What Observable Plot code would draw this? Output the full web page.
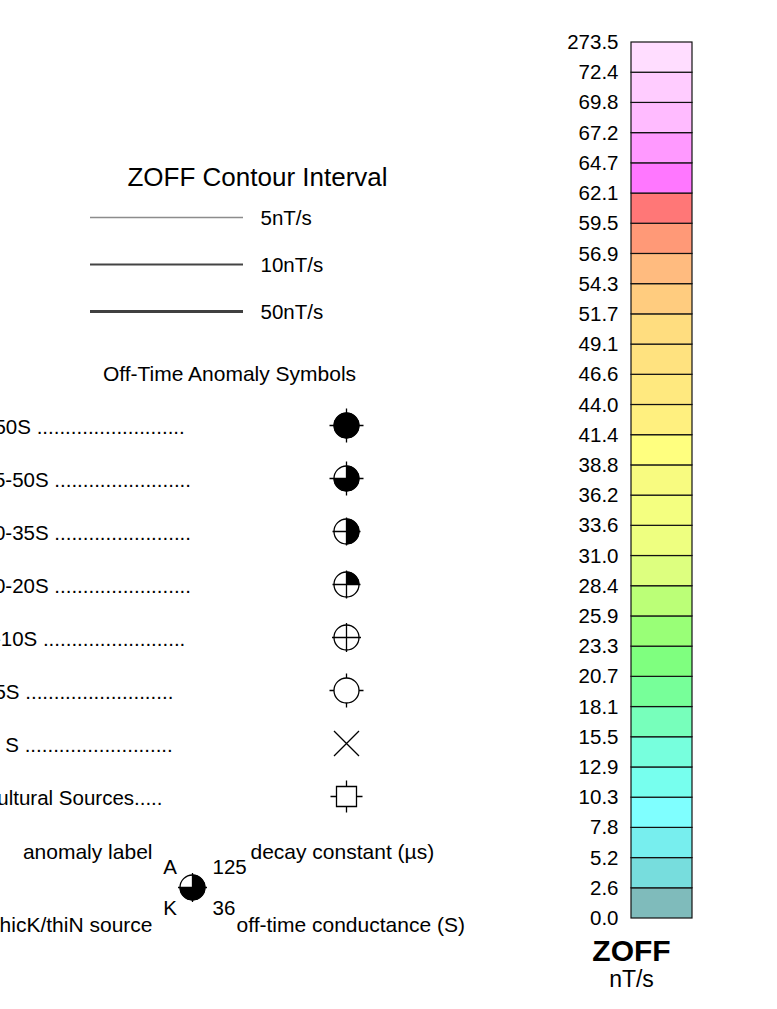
<!DOCTYPE html>
<html>
<head>
<meta charset="utf-8">
<script src="https://cdn.jsdelivr.net/npm/d3@7"></script>
<script src="https://cdn.jsdelivr.net/npm/@observablehq/plot@0.6"></script>
<style>
html, body { margin: 0; padding: 0; background: #fff; }
#chart { position: relative; width: 777px; height: 1009px; overflow: hidden; }
#chart svg { position: absolute; }
</style>
</head>
<body>
<div id="chart"></div>
<script>
// ---------------- DATA ----------------
// colour-bar class boundaries, bottom to top
const boundaryLabels = ["0.0","2.6","5.2","7.8","10.3","12.9","15.5","18.1","20.7","23.3","25.9","28.4","31.0","33.6","36.2","38.8","41.4","44.0","46.6","49.1","51.7","54.3","56.9","59.5","62.1","64.7","67.2","69.8","72.4","273.5"];
// class colours, bottom to top
const binColors = ["#7fbbbb","#77dddd","#77eeee","#7fffff","#77ffee","#77ffdd","#77ffbb","#77ff99","#7fff7f","#99ff77","#bbff77","#ddff7f","#eeff80","#f4ff80","#f8fb80","#ffff7f","#fff07f","#ffe97f","#ffe27f","#ffdd7f","#ffcc7f","#ffbb7f","#ff9977","#ff7777","#ff77ff","#ff99ff","#ffbbff","#ffccff","#ffddff"];
const colorbarTitle = "ZOFF";
const colorbarUnit = "nT/s";

const contourTitle = "ZOFF Contour Interval";
const contourLabels = ["5nT/s", "10nT/s", "50nT/s"];

const anomalyTitle = "Off-Time Anomaly Symbols";
const anomalyLabels = [
  ">50S " + ".".repeat(26),
  "35-50S " + ".".repeat(24),
  "20-35S " + ".".repeat(24),
  "10-20S " + ".".repeat(24),
  "5-10S " + ".".repeat(25),
  "<5S " + ".".repeat(26),
  "1  S " + ".".repeat(26),
  "Cultural Sources....."
];
const anomalySymbols = ["full", "threeQuarter", "half", "quarter", "empty", "ticks", "cross", "square"];

const exampleSymbol = "threeQuarter";
const exampleLetters = ["A", "K"];
const exampleNumbers = ["125", "36"];
const exampleCaptions = ["anomaly label", "decay constant (µs)", "thicK/thiN source", "off-time conductance (S)"];

// ---------------- SYMBOLS ----------------
const PI = Math.PI;
const rOf = size => Math.sqrt(size / PI);
const sector = (a0, a1) => ({
  draw(ctx, size) {
    const r = rOf(size);
    if (a1 - a0 >= 2 * PI - 1e-6) { ctx.moveTo(r, 0); ctx.arc(0, 0, r, 0, 2 * PI); }
    else { ctx.moveTo(0, 0); ctx.arc(0, 0, r, a0, a1); ctx.closePath(); }
  }
});
const crossThrough = k => ({
  draw(ctx, size) {
    const L = rOf(size) * k;
    ctx.moveTo(-L, 0); ctx.lineTo(L, 0); ctx.moveTo(0, -L); ctx.lineTo(0, L);
  }
});
const outerTicks = (k0, k1) => ({
  draw(ctx, size) {
    const r = rOf(size), a = r * k0, b = r * k1;
    ctx.moveTo(-b, 0); ctx.lineTo(-a, 0); ctx.moveTo(a, 0); ctx.lineTo(b, 0);
    ctx.moveTo(0, -b); ctx.lineTo(0, -a); ctx.moveTo(0, a); ctx.lineTo(0, b);
  }
});
const xMark = {
  draw(ctx, size) {
    const r = rOf(size);
    ctx.moveTo(-r, -r); ctx.lineTo(r, r); ctx.moveTo(r, -r); ctx.lineTo(-r, r);
  }
};
const squareTicks = {
  draw(ctx, size) {
    const r = rOf(size), s = r * 10 / 12.5, t = r * 16 / 12.5;
    ctx.rect(-s, -s, 2 * s, 2 * s);
    ctx.moveTo(-t, 0); ctx.lineTo(-s, 0); ctx.moveTo(s, 0); ctx.lineTo(t, 0);
    ctx.moveTo(0, -t); ctx.lineTo(0, -s); ctx.moveTo(0, s); ctx.lineTo(0, t);
  }
};
const symbolSpec = {
  full:         {ring: true, sector: [0, 2 * PI],       lines: crossThrough(17 / 12.5)},
  threeQuarter: {ring: true, sector: [-PI / 2, PI],     lines: crossThrough(17 / 12.5)},
  half:         {ring: true, sector: [-PI / 2, PI / 2], lines: crossThrough(14 / 12.5)},
  quarter:      {ring: true, sector: [-PI / 2, 0],      lines: crossThrough(14 / 12.5)},
  empty:        {ring: true,                            lines: crossThrough(14.5 / 12.5)},
  ticks:        {ring: true,                            lines: outerTicks(1, 17 / 12.5)},
  cross:        {                                       lines: xMark},
  square:       {                                       lines: squareTicks}
};
function symbolMarks(data, kind, pos, linesOverride) {
  const spec = symbolSpec[kind];
  const R = 12.5;
  const marks = [];
  if (spec.ring) marks.push(Plot.dot(data, {...pos, r: R, symbol: "circle", fill: "white", stroke: "black", strokeWidth: 1.3}));
  if (spec.sector) marks.push(Plot.dot(data, {...pos, r: R, symbol: sector(...spec.sector), fill: "black", stroke: "black", strokeWidth: 1}));
  marks.push(Plot.dot(data, {...pos, r: R, symbol: linesOverride || spec.lines, fill: "none", stroke: "black", strokeWidth: 1.3}));
  return marks;
}

const fontFamily = '"Liberation Sans", Arial, Helvetica, sans-serif';
const baseStyle = {fontFamily, fontSize: "20.5px", color: "black", background: "transparent", overflow: "hidden"};
const chart = document.getElementById("chart");
function place(svg, left, top) { svg.style.left = left + "px"; svg.style.top = top + "px"; chart.append(svg); }

// ---------------- CONTOUR INTERVAL LEGEND ----------------
const contourStyle = {
  "5nT/s":  {c: "#8c8c8c", w: 1.4},
  "10nT/s": {c: "#444444", w: 1.9},
  "50nT/s": {c: "#404040", w: 2.9}
};
const p1 = Plot.plot({
  width: 560, height: 185,
  marginTop: 67, marginBottom: 24, marginLeft: 90, marginRight: 317,
  style: baseStyle,
  y: {type: "point", domain: contourLabels, padding: 0, axis: null},
  marks: [
    Plot.ruleY(contourLabels, {y: d => d, stroke: d => contourStyle[d].c, strokeWidth: d => contourStyle[d].w}),
    Plot.text(contourLabels, {y: d => d, text: d => d, frameAnchor: "right", textAnchor: "start", dx: 17, dy: 1}),
    Plot.text([contourTitle], {text: d => d, frameAnchor: "top", lineAnchor: "middle", dx: 90.5, dy: -40, fontSize: 26})
  ]
});
place(p1, 0, 150);

// ---------------- ANOMALY SYMBOLS LEGEND ----------------
const p2 = Plot.plot({
  width: 560, height: 480,
  marginTop: 75, marginBottom: 34, marginLeft: 0, marginRight: 214,
  style: baseStyle,
  y: {type: "point", domain: anomalyLabels, padding: 0, axis: null},
  marks: [
    Plot.text([anomalyTitle], {text: d => d, frameAnchor: "top", lineAnchor: "middle", dx: 56, dy: -51, fontSize: 21}),
    Plot.text(anomalyLabels, {y: d => d, text: d => d, frameAnchor: "left", textAnchor: "start", dx: -18, dy: 2}),
    ...anomalyLabels.flatMap((label, i) => symbolMarks([label], anomalySymbols[i], {y: d => d, frameAnchor: "right"}))
  ]
});
place(p2, 0, 350);

// ---------------- EXAMPLE SYMBOL ----------------
const mid = {frameAnchor: "middle", text: d => d};
const p3 = Plot.plot({
  width: 560, height: 134,
  marginTop: 0, marginBottom: 0, marginLeft: 0, marginRight: 176,
  style: baseStyle,
  marks: [
    ...symbolMarks([exampleSymbol], exampleSymbol, {frameAnchor: "middle"}, crossThrough(14.5 / 12.5)),
    Plot.text([exampleCaptions[0]], {...mid, textAnchor: "end", dx: -40, dy: -35, fontSize: 21}),
    Plot.text([exampleCaptions[1]], {...mid, textAnchor: "start", dx: 58, dy: -35, fontSize: 21}),
    Plot.text([exampleCaptions[2]], {...mid, textAnchor: "end", dx: -40, dy: 38, fontSize: 21}),
    Plot.text([exampleCaptions[3]], {...mid, textAnchor: "start", dx: 44, dy: 38, fontSize: 21}),
    Plot.text([exampleLetters[0]], {...mid, dx: -22.5, dy: -20}),
    Plot.text([exampleLetters[1]], {...mid, dx: -22.5, dy: 21}),
    Plot.text([exampleNumbers[0]], {...mid, textAnchor: "start", dx: 20, dy: -20}),
    Plot.text([exampleNumbers[1]], {...mid, textAnchor: "start", dx: 20, dy: 21})
  ]
});
place(p3, 0, 820);

// ---------------- COLOUR BAR ----------------
const bins = binColors.map((color, i) => ({lo: i, hi: i + 1, color}));
const p4 = Plot.plot({
  width: 150, height: 1009,
  marginTop: 42, marginBottom: 91, marginLeft: 71, marginRight: 18,
  style: baseStyle,
  x: {domain: [0, 1], axis: null},
  y: {domain: [0, binColors.length]},
  marks: [
    Plot.rect(bins, {x1: 0, x2: 1, y1: "lo", y2: "hi", fill: "color", stroke: "#111", strokeWidth: 1.2}),
    Plot.axisY(d3.range(boundaryLabels.length), {tickSize: 0, tickPadding: 13, tickFormat: i => boundaryLabels[i], label: null}),
    Plot.text([colorbarTitle], {x: 0, y: 0, text: d => d, dy: 33, fontSize: 30, fontWeight: "bold"}),
    Plot.text([colorbarUnit], {x: 0, y: 0, text: d => d, dy: 61, fontSize: 23})
  ]
});
place(p4, 560, 0);
</script>
</body>
</html>
